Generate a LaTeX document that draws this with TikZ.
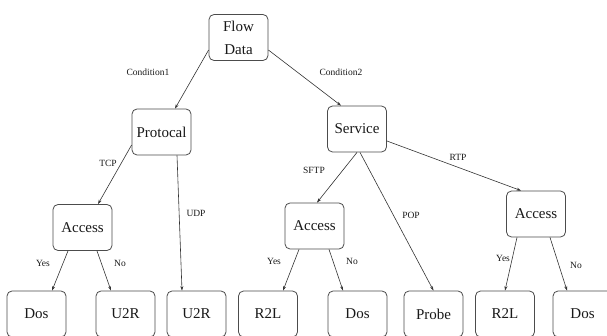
\documentclass[tikz,border=0pt]{standalone}
\usepackage{fontspec}
\setmainfont{Liberation Serif}
\usetikzlibrary{arrows.meta}
\begin{document}
\begin{tikzpicture}[x=1pt,y=-1pt,
  box/.style={draw=black!70, line width=0.8pt, rounded corners=5pt, fill=white,
    minimum width=59pt, minimum height=46pt, inner sep=0pt, align=center,
    font=\fontsize{15}{23}\selectfont, text=black!90},
  leaf/.style={box, minimum height=46pt},
  conn/.style={draw=black!80, line width=0.6pt, -{Stealth[length=4.5pt,width=3pt]}},
  lbl/.style={font=\fontsize{9.5}{10}\selectfont, text=black!90, inner sep=0pt}]
\useasboundingbox (0,0) rectangle (607,336);
% internal nodes
\node[box] (flow) at (238.5,37.5) {Flow\\Data};
\node[box] (prot) at (161.5,132) {Protocal};
\node[box] (serv) at (357,129) {Service};
\node[box] (acc1) at (82.5,227.5) {Access};
\node[box] (acc2) at (314.5,226) {Access};
\node[box] (acc3) at (536,214) {Access};
% leaves
\node[leaf] (dos1)  at (36.5,314) {Dos};
\node[leaf] (u2r1)  at (125.5,314) {U2R};
\node[leaf] (u2r2)  at (196.5,314) {U2R};
\node[leaf] (r2l1)  at (268,314) {R2L};
\node[leaf] (dos2)  at (357.5,314) {Dos};
\node[leaf] (probe) at (433.5,314) {Probe};
\node[leaf] (r2l2)  at (505,314) {R2L};
\node[leaf] (dos3)  at (582.5,314) {Dos};
% connectors
\draw[conn] ([yshift=-12.5pt]flow.west) -- ([xshift=13.5pt]prot.north);
\draw[conn] ([yshift=-12.5pt]flow.east) -- ([xshift=-16pt]serv.north);
\draw[conn] ([yshift=-13pt]prot.west) -- ([xshift=15.5pt]acc1.north);
\draw[conn] ([xshift=15.5pt]prot.south) -- ([xshift=-14.5pt]u2r2.north);
\draw[conn] (serv.south) -- ([xshift=2.5pt]acc2.north);
\draw[conn] ([xshift=3pt]serv.south) -- (probe.north);
\draw[conn] ([yshift=-12pt]serv.east) -- ([xshift=-15pt]acc3.north);
\draw[conn] ([xshift=-14.5pt]acc1.south) -- ([xshift=15.5pt]dos1.north);
\draw[conn] ([xshift=14.5pt]acc1.south) -- ([xshift=-14.5pt]u2r1.north);
\draw[conn] ([xshift=-15.5pt]acc2.south) -- ([xshift=15pt]r2l1.north);
\draw[conn] ([xshift=14.5pt]acc2.south) -- ([xshift=-14.5pt]dos2.north);
\draw[conn] ([xshift=-19pt]acc3.south) -- (r2l2.north);
\draw[conn] ([xshift=14pt]acc3.south) -- ([xshift=-15.5pt]dos3.north);
% labels
\node[lbl] (lc1) at (148,72) {Condition1};
\node[lbl] (lc2) at (341,72) {Condition2};
\node[lbl] (ltcp) at (108,163) {TCP};
\node[lbl] (ludp) at (196,213) {UDP};
\node[lbl] (lsftp) at (314,170) {SFTP};
\node[lbl] (lpop) at (411,215) {POP};
\node[lbl] (lrtp) at (458,157) {RTP};
\node[lbl] (ly1) at (43,263) {Yes};
\node[lbl] (ln1) at (120,263) {No};
\node[lbl] (ly2) at (274,261) {Yes};
\node[lbl] (ln2) at (352,261) {No};
\node[lbl] (ly3) at (503,258) {Yes};
\node[lbl] (ln3) at (576,265) {No};
\end{tikzpicture}
\end{document}
